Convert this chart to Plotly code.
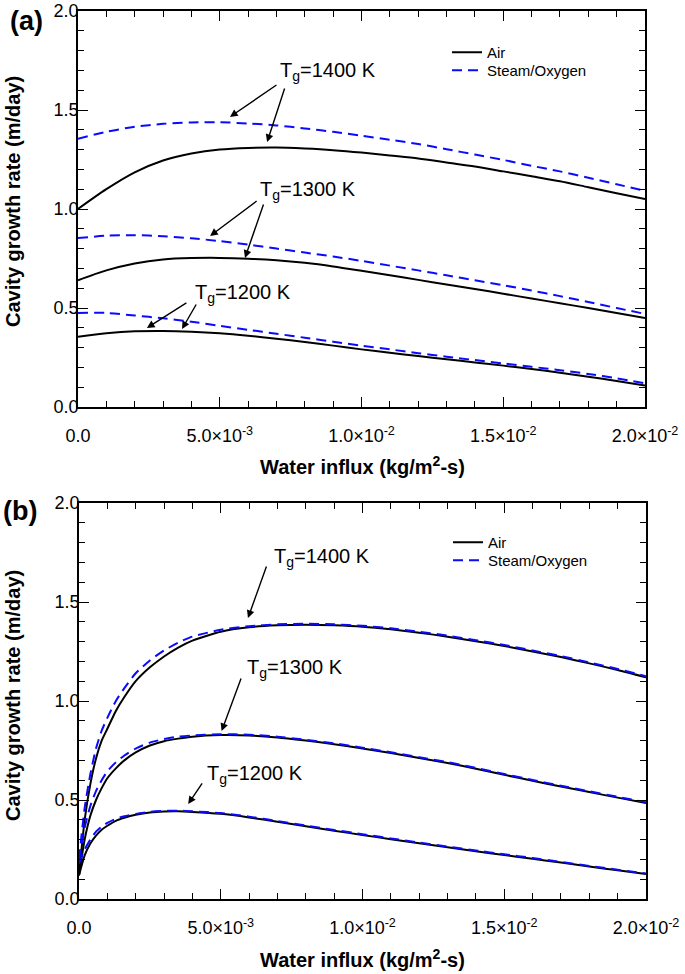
import plotly.graph_objects as go

# ---------------- data ----------------
x_a = [0.000, 0.001, 0.002, 0.003, 0.004, 0.005, 0.006, 0.007, 0.008, 0.009, 0.010,
       0.011, 0.012, 0.013, 0.014, 0.015, 0.016, 0.017, 0.018, 0.019, 0.020]

air_1400_a = [1.00, 1.10, 1.185, 1.245, 1.28, 1.30, 1.308, 1.31, 1.305, 1.297, 1.285,
              1.27, 1.255, 1.235, 1.215, 1.19, 1.165, 1.14, 1.11, 1.08, 1.05]
steam_1400_a = [1.355, 1.39, 1.415, 1.43, 1.437, 1.438, 1.432, 1.422, 1.407, 1.39, 1.37,
                1.35, 1.328, 1.302, 1.275, 1.248, 1.218, 1.19, 1.158, 1.125, 1.092]
air_1300_a = [0.64, 0.69, 0.725, 0.745, 0.752, 0.753, 0.749, 0.741, 0.728, 0.71, 0.688,
              0.665, 0.642, 0.619, 0.596, 0.572, 0.548, 0.524, 0.50, 0.475, 0.45]
steam_1300_a = [0.853, 0.865, 0.868, 0.862, 0.852, 0.838, 0.82, 0.80, 0.78, 0.76, 0.738,
                0.714, 0.69, 0.665, 0.64, 0.615, 0.588, 0.56, 0.53, 0.50, 0.47]
air_1200_a = [0.355, 0.372, 0.382, 0.384, 0.38, 0.372, 0.36, 0.345, 0.328, 0.31, 0.291,
              0.274, 0.257, 0.241, 0.225, 0.209, 0.192, 0.173, 0.153, 0.131, 0.108]
steam_1200_a = [0.475, 0.475, 0.462, 0.448, 0.431, 0.41, 0.39, 0.37, 0.35, 0.33, 0.31,
                0.291, 0.272, 0.254, 0.237, 0.22, 0.203, 0.186, 0.167, 0.145, 0.12]

x_b = [0.0, 0.0002, 0.0004, 0.0006, 0.0008, 0.001, 0.0013, 0.0016, 0.002, 0.0025, 0.003,
       0.0035, 0.004, 0.005, 0.006, 0.007, 0.008, 0.009, 0.010, 0.011, 0.012, 0.013,
       0.014, 0.015, 0.016, 0.017, 0.018, 0.019, 0.020]

air_1400_b = [0.12, 0.40, 0.58, 0.71, 0.80, 0.86, 0.95, 1.02, 1.10, 1.17, 1.225,
              1.27, 1.305, 1.35, 1.372, 1.382, 1.385, 1.382, 1.375, 1.362, 1.345, 1.325,
              1.302, 1.278, 1.25, 1.222, 1.19, 1.157, 1.12]
steam_1400_b = [0.20, 0.46, 0.63, 0.76, 0.85, 0.915, 1.0, 1.065, 1.14, 1.205, 1.255,
                1.295, 1.325, 1.36, 1.378, 1.387, 1.39, 1.387, 1.38, 1.367, 1.35, 1.33,
                1.307, 1.283, 1.255, 1.227, 1.195, 1.162, 1.125]
air_1300_b = [0.12, 0.30, 0.42, 0.50, 0.56, 0.61, 0.66, 0.70, 0.74, 0.775, 0.797,
              0.81, 0.82, 0.828, 0.826, 0.816, 0.80, 0.782, 0.76, 0.737, 0.712, 0.687,
              0.658, 0.627, 0.597, 0.568, 0.54, 0.512, 0.485]
steam_1300_b = [0.20, 0.36, 0.47, 0.545, 0.60, 0.645, 0.69, 0.725, 0.76, 0.79, 0.808,
                0.82, 0.826, 0.832, 0.83, 0.82, 0.804, 0.786, 0.764, 0.741, 0.716, 0.691,
                0.662, 0.631, 0.601, 0.572, 0.544, 0.516, 0.489]
air_1200_b = [0.12, 0.22, 0.28, 0.32, 0.35, 0.37, 0.395, 0.41, 0.425, 0.437, 0.442,
              0.443, 0.44, 0.43, 0.412, 0.39, 0.367, 0.345, 0.323, 0.302, 0.281, 0.261,
              0.241, 0.222, 0.203, 0.184, 0.164, 0.145, 0.126]
steam_1200_b = [0.18, 0.25, 0.30, 0.34, 0.365, 0.385, 0.405, 0.418, 0.43, 0.44, 0.445,
                0.446, 0.443, 0.434, 0.416, 0.394, 0.371, 0.349, 0.327, 0.306, 0.285, 0.265,
                0.245, 0.226, 0.207, 0.187, 0.167, 0.148, 0.129]

x_tickvals = [0.0, 0.005, 0.010, 0.015, 0.020]
x_ticktext = ["0.0", "5.0×10<sup>-3</sup>", "1.0×10<sup>-2</sup>",
              "1.5×10<sup>-2</sup>", "2.0×10<sup>-2</sup>"]
series_names = ["Air", "Steam/Oxygen"]
temp_labels = ["T<sub>g</sub>=1400 K", "T<sub>g</sub>=1300 K", "T<sub>g</sub>=1200 K"]

# ---------------- layout helpers ----------------
W, H = 685, 974
FONT = "Liberation Sans, Arial, sans-serif"


def pxx(v):
    return v / W


def pxy(v):
    return 1 - v / H


air_style = dict(color="black", width=2)
steam_style = dict(color="#0a0aff", width=2, dash="10px,6px")

fig = go.Figure()

panel_a = [(air_1400_a, steam_1400_a), (air_1300_a, steam_1300_a), (air_1200_a, steam_1200_a)]
panel_b = [(air_1400_b, steam_1400_b), (air_1300_b, steam_1300_b), (air_1200_b, steam_1200_b)]

for i, (air, steam) in enumerate(panel_a):
    fig.add_trace(go.Scatter(x=x_a, y=air, mode="lines", line=dict(**air_style, shape="spline", smoothing=0.8),
                             name=series_names[0], showlegend=(i == 0), legend="legend",
                             xaxis="x", yaxis="y"))
for i, (air, steam) in enumerate(panel_a):
    fig.add_trace(go.Scatter(x=x_a, y=steam, mode="lines", line=dict(**steam_style, shape="spline", smoothing=0.8),
                             name=series_names[1], showlegend=(i == 0), legend="legend2",
                             xaxis="x", yaxis="y"))
for i, (air, steam) in enumerate(panel_b):
    fig.add_trace(go.Scatter(x=x_b, y=air, mode="lines", line=dict(**air_style, shape="spline", smoothing=0.6),
                             name=series_names[0], showlegend=(i == 0), legend="legend3",
                             xaxis="x2", yaxis="y2"))
for i, (air, steam) in enumerate(panel_b):
    fig.add_trace(go.Scatter(x=x_b, y=steam, mode="lines", line=dict(**steam_style, shape="spline", smoothing=0.6),
                             name=series_names[1], showlegend=(i == 0), legend="legend4",
                             xaxis="x2", yaxis="y2"))

common_x = dict(range=[0, 0.02], tickvals=x_tickvals, ticktext=x_ticktext, automargin=False,
                ticks="inside", ticklen=10, tickwidth=1.3, tickcolor="black", ticklabelstandoff=12,
                minor=dict(ticks="inside", dtick=0.001, ticklen=6, tickwidth=1.3, tickcolor="black"),
                showline=True, linecolor="black", linewidth=1.5, mirror="ticks",
                showgrid=False, zeroline=False,
                tickfont=dict(family=FONT, size=18, color="black"))
common_y = dict(range=[0, 2], dtick=0.5, tickformat=".1f", automargin=False,
                ticks="inside", ticklen=10, tickwidth=1.3, tickcolor="black", ticklabelstandoff=-6,
                minor=dict(ticks="inside", dtick=0.1, ticklen=6, tickwidth=1.3, tickcolor="black"),
                showline=True, linecolor="black", linewidth=1.5, mirror="ticks",
                showgrid=False, zeroline=False,
                tickfont=dict(family=FONT, size=18, color="black"))


def leg(xp, yp):
    return dict(x=pxx(xp), y=pxy(yp), xanchor="left", yanchor="top",
                bgcolor="rgba(0,0,0,0)", font=dict(family=FONT, size=15, color="black"),
                tracegroupgap=0, itemwidth=30)


fig.update_layout(
    width=W, height=H,
    margin=dict(l=0, r=0, t=0, b=0, autoexpand=False),
    paper_bgcolor="white", plot_bgcolor="white",
    font=dict(family=FONT, color="black"),
    hovermode=False,
    xaxis=dict(domain=[pxx(78), pxx(645)], anchor="y", **common_x),
    yaxis=dict(domain=[pxy(407), pxy(11)], anchor="x", **common_y),
    xaxis2=dict(domain=[pxx(79), pxx(646)], anchor="y2", **common_x),
    yaxis2=dict(domain=[pxy(899), pxy(503)], anchor="x2", **common_y),
    legend=leg(447, 36),
    legend2=leg(447, 54),
    legend3=leg(448, 526),
    legend4=leg(448, 544),
    showlegend=True,
)

ann = []
# panel labels
ann.append(dict(text="<b>(a)</b>", x=pxx(26), y=pxy(21), xref="paper", yref="paper",
                xanchor="center", yanchor="middle",
                showarrow=False, font=dict(family=FONT, size=27, color="black")))
ann.append(dict(text="<b>(b)</b>", x=pxx(20), y=pxy(511), xref="paper", yref="paper",
                xanchor="center", yanchor="middle",
                showarrow=False, font=dict(family=FONT, size=27, color="black")))
# axis titles
for yc in (202, 696):
    ann.append(dict(text="<b>Cavity growth rate (m/day)</b>", x=pxx(13), y=pxy(yc),
                    xref="paper", yref="paper", textangle=-90, showarrow=False,
                    xanchor="center", yanchor="middle",
                    font=dict(family=FONT, size=20, color="black")))
for yc in (466, 958):
    ann.append(dict(text="<b>Water influx (kg/m<sup>2</sup>-s)</b>", x=pxx(362), y=pxy(yc),
                    xref="paper", yref="paper", showarrow=False,
                    xanchor="center", yanchor="middle",
                    font=dict(family=FONT, size=20, color="black")))

# temperature labels (left x, cap-centre y in pixels)
label_pos_a = [(278, 72), (258, 190), (193, 293)]
label_pos_b = [(272, 557), (245, 668), (205, 774)]
for txt, (lx, ly) in zip(temp_labels * 2, label_pos_a + label_pos_b):
    ann.append(dict(text=txt, x=pxx(lx), y=pxy(ly), xref="paper", yref="paper",
                    xanchor="left", yanchor="middle", showarrow=False,
                    font=dict(family=FONT, size=20, color="black")))

# arrows: tip in data coords, tail offset in pixels
arrows_a = [(0.00536, 1.465, 48, -33), (0.00667, 1.338, 18, -55),
            (0.00466, 0.864, 48, -36), (0.00589, 0.753, 19, -55),
            (0.00243, 0.399, 41, -26), (0.00367, 0.394, 15, -26)]
arrows_b = [(0.00596, 1.419, 19, -53), (0.00503, 0.848, 20, -54), (0.00385, 0.48, 15, -22)]
for (xt, yt, ax, ay) in arrows_a:
    ann.append(dict(x=xt, y=yt, xref="x", yref="y", ax=ax, ay=ay, text="",
                    showarrow=True, arrowhead=2, arrowsize=1.1, arrowwidth=1.4,
                    arrowcolor="black", standoff=0))
for (xt, yt, ax, ay) in arrows_b:
    ann.append(dict(x=xt, y=yt, xref="x2", yref="y2", ax=ax, ay=ay, text="",
                    showarrow=True, arrowhead=2, arrowsize=1.1, arrowwidth=1.4,
                    arrowcolor="black", standoff=0))

fig.update_layout(annotations=ann)
fig.write_html("out.html", config={"displayModeBar": False},
               post_script="document.body.style.margin='0';")
